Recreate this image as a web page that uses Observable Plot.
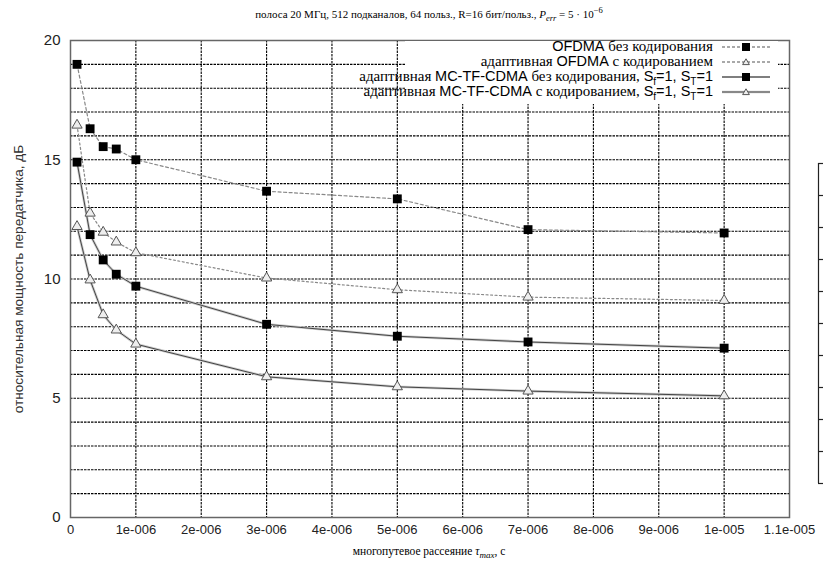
<!DOCTYPE html>
<html><head><meta charset="utf-8">
<script src="https://cdn.jsdelivr.net/npm/d3@7"></script>
<script src="https://cdn.jsdelivr.net/npm/@observablehq/plot@0.6"></script>
<style>
body{margin:0;background:#fff;}
#wrap{position:relative;width:823px;height:563px;overflow:hidden;background:#fff;}
#wrap > svg{position:absolute;left:0;top:0;}
.title{position:absolute;left:0;width:858px;top:5px;text-align:center;font-family:"Liberation Serif",serif;font-size:11px;color:#000;white-space:nowrap;}
.ylab{position:absolute;left:18px;top:279px;transform:translate(-50%,-50%) rotate(-90deg);font-family:"Liberation Sans",sans-serif;font-size:13.6px;white-space:nowrap;color:#333;}
.xlab{position:absolute;left:0;width:858px;top:545px;text-align:center;font-family:"Liberation Serif",serif;font-size:11.5px;white-space:nowrap;}
.legbox{position:absolute;left:405px;top:41px;width:373px;height:63px;background:#fff;}
.leg{position:absolute;right:53px;top:39px;font-size:15px;line-height:15px;color:#000;}
.row{display:flex;justify-content:flex-end;align-items:center;height:15px;line-height:15px;white-space:nowrap;}
.row .t{font-family:"Liberation Serif",serif;}
.row .s{font-family:"Liberation Sans",sans-serif;font-size:14.5px;}
.row sub{line-height:0;}
#wrap .row svg{position:static;margin-left:9px;flex:none;}
</style></head><body><div id="wrap"></div><script>
// data
const delays = [1e-7, 3e-7, 5e-7, 7e-7, 1e-6, 3e-6, 5e-6, 7e-6, 1e-5];
const ofdmaUncoded = [19.0, 16.3, 15.55, 15.45, 15.0, 13.68, 13.36, 12.07, 11.93];
const ofdmaCoded   = [16.45, 12.76, 11.96, 11.55, 11.1, 10.04, 9.55, 9.24, 9.1];
const mcUncoded    = [14.9, 11.86, 10.8, 10.2, 9.7, 8.1, 7.6, 7.36, 7.1];
const mcCoded      = [12.2, 9.96, 8.5, 7.86, 7.27, 5.9, 5.48, 5.3, 5.1];
const seriesNames = [
  "OFDMA без кодирования",
  "адаптивная OFDMA с кодированием",
  "адаптивная MC-TF-CDMA без кодирования, Sf=1, ST=1",
  "адаптивная MC-TF-CDMA с кодированием, Sf=1, ST=1"
];
const xTicks = [0, 1e-6, 2e-6, 3e-6, 4e-6, 5e-6, 6e-6, 7e-6, 8e-6, 9e-6, 1e-5, 1.1e-5];
const xTickLabels = ["0","1e-006","2e-006","3e-006","4e-006","5e-006","6e-006","7e-006","8e-006","9e-006","1e-005","1.1e-005"];
const yTicks = [0, 5, 10, 15, 20];
const yGrid = [1,2,3,4,5,6,7,8,9,10,11,12,13,14,15,16,17,18,19];
const fragTicks = [0,1,2,3,4,5,6,7,8,9,10];

const wrap = document.getElementById("wrap");
const table = values => delays.map((x, i) => ({x, y: values[i]}));
const A = table(ofdmaUncoded), B = table(ofdmaCoded), C = table(mcUncoded), D = table(mcCoded);
const xGridRows = xTicks.slice(1, -1).map(x => ({x}));
const yGridRows = yGrid.map(y => ({y}));

const chart = Plot.plot({
  width: 823, height: 563,
  marginLeft: 70, marginRight: 34, marginTop: 40, marginBottom: 46,
  style: {fontFamily: "Liberation Sans, sans-serif"},
  x: {domain: [0, 1.1e-5]},
  y: {domain: [0, 20]},
  marks: [
    Plot.ruleX(xGridRows, {x: "x", stroke: "#000", strokeWidth: 1.1, strokeDasharray: "2.5,1"}),
    Plot.ruleY(yGridRows, {y: "y", stroke: "#000", strokeWidth: 1.1, strokeDasharray: "2.5,1"}),
    Plot.axisX(xTicks, {tickSize: 0, tickPadding: 7, fontSize: 13, fill: "#222", label: null,
      tickFormat: d => xTickLabels[xTicks.indexOf(d)]}),
    Plot.axisY(yTicks, {tickSize: 0, tickPadding: 10, fontSize: 15, fill: "#222", label: null}),
    Plot.line(A, {x: "x", y: "y", stroke: "#888", strokeWidth: 1.2, strokeDasharray: "3,2.5"}),
    Plot.line(B, {x: "x", y: "y", stroke: "#888", strokeWidth: 1.2, strokeDasharray: "2,2.5"}),
    Plot.line(C, {x: "x", y: "y", stroke: "#ccc", strokeWidth: 2.6}),
    Plot.line(C, {x: "x", y: "y", stroke: "#444", strokeWidth: 1}),
    Plot.line(D, {x: "x", y: "y", stroke: "#ccc", strokeWidth: 2.6}),
    Plot.line(D, {x: "x", y: "y", stroke: "#444", strokeWidth: 1}),
    Plot.dot(A, {x: "x", y: "y", symbol: "square", r: 5, fill: "#000"}),
    Plot.dot(C, {x: "x", y: "y", symbol: "square", r: 5, fill: "#000"}),
    Plot.dot(B, {x: "x", y: "y", symbol: "triangle", r: 3.8, fill: "#eee", stroke: "#555", strokeWidth: 1}),
    Plot.dot(D, {x: "x", y: "y", symbol: "triangle", r: 3.8, fill: "#eee", stroke: "#555", strokeWidth: 1}),
    Plot.frame({stroke: "#666", strokeWidth: 1.5})
  ]
});
wrap.appendChild(chart);

// fragment of the neighbouring figure at the right edge
const frag = Plot.plot({
  width: 33, height: 563, marginLeft: 28, marginRight: 0, marginTop: 163, marginBottom: 80,
  x: {domain: [0, 1], axis: null},
  y: {domain: [0, 10], axis: null},
  marks: [
    Plot.tickY(fragTicks.map(v => ({v})), {y: "v", stroke: "#222", strokeWidth: 1.2}),
    Plot.ruleX([{v: 0}], {x: "v", stroke: "#222", strokeWidth: 1.2})
  ]
});
frag.style.left = "790px";
wrap.appendChild(frag);

// title and axis labels
const title = document.createElement("div");
title.className = "title";
title.innerHTML = "полоса 20 МГц, 512 подканалов, 64 польз., R=16 бит/польз., <i>P</i><sub style='font-size:8.5px'><i>err</i></sub> = 5 · 10<sup style='font-size:8.5px'>−6</sup>";
wrap.appendChild(title);

const ylab = document.createElement("div");
ylab.className = "ylab";
ylab.textContent = "относительная мощность передатчика, дБ";
wrap.appendChild(ylab);

const xlab = document.createElement("div");
xlab.className = "xlab";
xlab.innerHTML = "многопутевое рассеяние <i>τ</i><sub style='font-size:9px'><i>max</i></sub>, с";
wrap.appendChild(xlab);

// legend
const box = document.createElement("div");
box.className = "legbox";
wrap.appendChild(box);
const leg = document.createElement("div");
leg.className = "leg";
const swatch = (dash, sym, halo) => {
  let s = `<svg width="48" height="10" viewBox="0 0 48 10">`;
  if (halo) s += `<line x1="0" y1="5" x2="48" y2="5" stroke="#ccc" stroke-width="2.6"/>`;
  s += `<line x1="0" y1="5" x2="48" y2="5" stroke="${halo ? "#444" : (dash ? "#555" : "#000")}" stroke-width="1.1" ${dash ? `stroke-dasharray="${dash}"` : ""}/>`;
  if (sym === "sq") s += `<rect x="20" y="1" width="8" height="8" fill="#000"/>`;
  else s += `<path d="M24,1.8L27.4,7.6L20.6,7.6Z" fill="#eee" stroke="#555" stroke-width="1"/>`;
  return s + `</svg>`;
};
const sub = (a, b) => `${a}<sub style="font-size:10px">${b}</sub>`;
const rowsHtml = [
  `<span class="s">OFDMA</span><span class="t">&nbsp;без кодирования</span>` + swatch("3,2", "sq", false),
  `<span class="t">адаптивная&nbsp;</span><span class="s">OFDMA</span><span class="t">&nbsp;с кодированием</span>` + swatch("3,2", "tri", false),
  `<span class="t">адаптивная&nbsp;</span><span class="s">MC-TF-CDMA</span><span class="t">&nbsp;без кодирования,&nbsp;</span><span class="s">${sub("S","f")}=1, ${sub("S","T")}=1</span>` + swatch(null, "sq", false),
  `<span class="t">адаптивная&nbsp;</span><span class="s">MC-TF-CDMA</span><span class="t">&nbsp;с кодированием,&nbsp;</span><span class="s">${sub("S","f")}=1, ${sub("S","T")}=1</span>` + swatch(null, "tri", true)
];
leg.innerHTML = rowsHtml.map(r => `<div class="row">${r}</div>`).join("");
wrap.appendChild(leg);
</script></body></html>
